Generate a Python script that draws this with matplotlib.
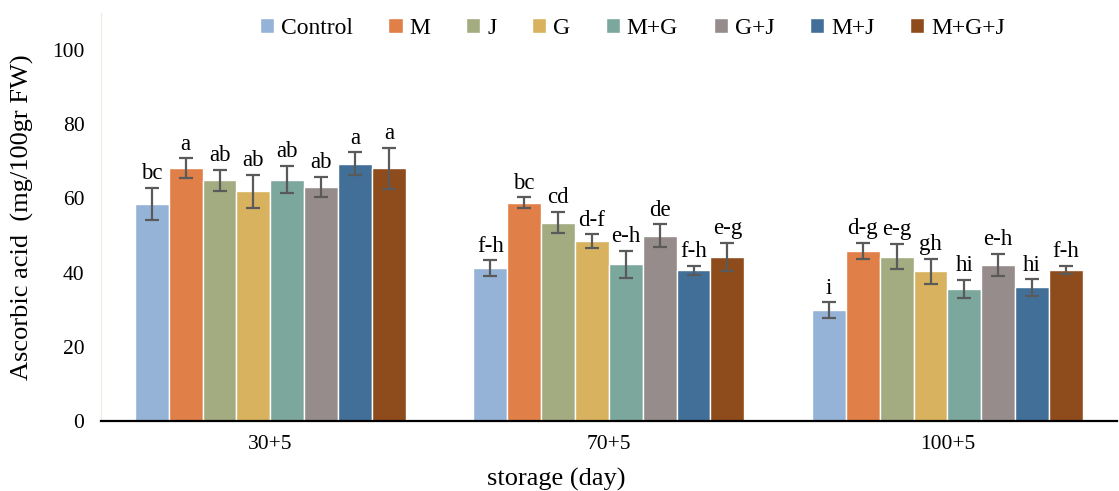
import numpy as np
import matplotlib.pyplot as plt

plt.rcParams['font.family'] = ['Liberation Serif', 'DejaVu Serif']

storage = ["30+5", "70+5", "100+5"]
treatments = ["Control", "M", "J", "G", "M+G", "G+J", "M+J", "M+G+J"]
colors = ["#95B3D7", "#E07F48", "#A3AB80", "#D8B25E",
          "#7BA79C", "#968C8C", "#426F97", "#8E4B1B"]

# mean ascorbic acid per treatment, one list per storage time
means = {
    "Control": [58.5, 41.2, 29.9],
    "M":       [68.1, 58.8, 45.9],
    "J":       [64.9, 53.5, 44.3],
    "G":       [61.9, 48.5, 40.3],
    "M+G":     [65.1, 42.2, 35.6],
    "G+J":     [63.2, 49.9, 42.0],
    "M+J":     [69.3, 40.6, 36.0],
    "M+G+J":   [68.1, 44.3, 40.7],
}
errors = {
    "Control": [4.4, 2.1, 2.1],
    "M":       [2.7, 1.5, 2.2],
    "J":       [2.8, 2.8, 3.4],
    "G":       [4.4, 1.8, 3.4],
    "M+G":     [3.7, 3.7, 2.4],
    "G+J":     [2.7, 3.1, 3.0],
    "M+J":     [3.1, 1.2, 2.2],
    "M+G+J":   [5.6, 3.8, 1.2],
}
letters = {
    "Control": ["bc", "f-h", "i"],
    "M":       ["a", "bc", "d-g"],
    "J":       ["ab", "cd", "e-g"],
    "G":       ["ab", "d-f", "gh"],
    "M+G":     ["ab", "e-h", "hi"],
    "G+J":     ["ab", "de", "e-h"],
    "M+J":     ["a", "f-h", "hi"],
    "M+G+J":   ["a", "e-g", "f-h"],
}

fig = plt.figure(figsize=(11.19, 4.91), dpi=100)
ax = fig.add_axes([0.0903, 0.1426, 0.9077, 0.831])

x = np.arange(len(storage))
width = 0.1
for i, name in enumerate(treatments):
    pos = x + (i - 3.5) * width
    ax.bar(pos, means[name], width, color=colors[i], edgecolor="white",
           linewidth=1.0, label=name)
    ax.errorbar(pos, means[name], yerr=errors[name], fmt="none",
                ecolor="#5a5a5a", elinewidth=1.6, capsize=5, capthick=1.6)
    for p, m, e, t in zip(pos, means[name], errors[name], letters[name]):
        ax.text(p, m + e + 1.0, t, ha="center", va="bottom", fontsize=16.5)

ax.set_xlim(-0.5, 2.5)
ax.set_ylim(0, 110)
ax.set_yticks(range(0, 101, 20))
ax.set_xticks(x)
ax.set_xticklabels(storage)
ax.tick_params(axis="both", length=0, labelsize=15.5)
ax.tick_params(axis="y", pad=12)
ax.tick_params(axis="x", pad=10)

for s in ["top", "right"]:
    ax.spines[s].set_visible(False)
ax.spines["left"].set_color("#F2E8DC")
ax.spines["bottom"].set_color("black")
ax.spines["bottom"].set_linewidth(1.6)

ax.set_ylabel("Ascorbic acid  (mg/100gr FW)", fontsize=19)
ax.yaxis.set_label_coords(-0.066, 0.5)
ax.set_xlabel("storage (day)", fontsize=19)
ax.xaxis.set_label_coords(0.448, -0.115)

ax.legend(loc="upper center", bbox_to_anchor=(0.523, 1.022), ncol=8,
          frameon=False, fontsize=17, handlelength=0.6, handleheight=0.6,
          handletextpad=0.3, columnspacing=1.5, borderaxespad=0.2)

fig.savefig("out.png", dpi=100)
